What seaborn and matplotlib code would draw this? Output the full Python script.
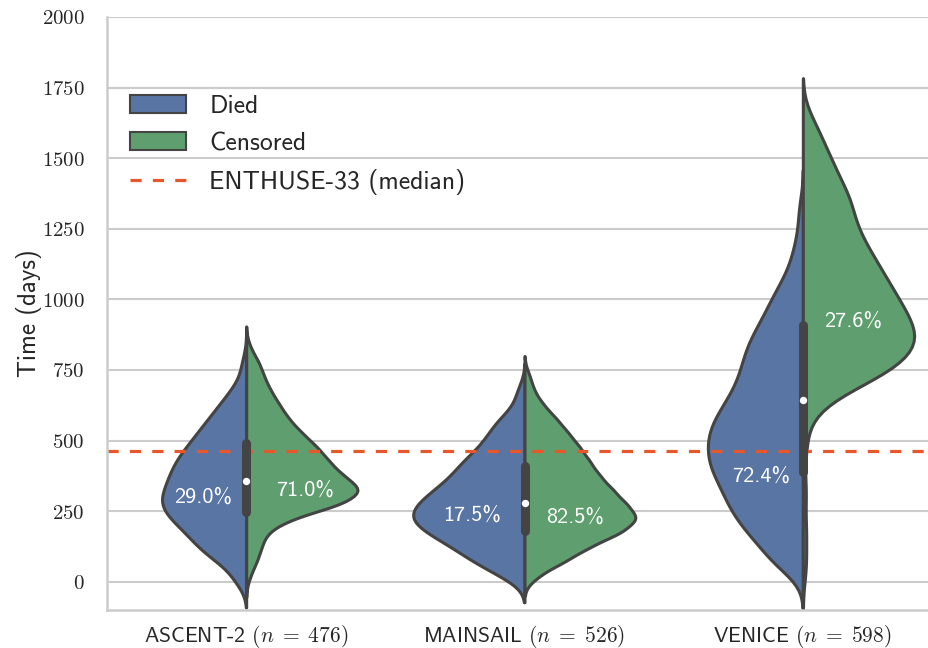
import numpy as np
import pandas as pd
import matplotlib
matplotlib.use("Agg")
import matplotlib.pyplot as plt
import seaborn as sns
from matplotlib.ticker import FixedLocator, FuncFormatter
from matplotlib.lines import Line2D
from matplotlib.patches import Patch

trials = ["ASCENT-2", "MAINSAIL", "VENICE"]
statuses = ["Died", "Censored"]
enthuse_median_days = 462
y_ticks = [0, 250, 500, 750, 1000, 1250, 1500, 1750, 2000]

# Survival times in days, grouped into 50-day bins (bin centre) with patient counts
ascent_died_days = [10, 75, 125, 175, 225, 275, 325, 375, 425, 475, 525, 575, 625, 675, 725, 775]
ascent_died_n = [3, 6, 9, 11, 14, 16, 15, 14, 13, 11, 9, 7, 5, 3, 1, 1]

ascent_cens_days = [25, 75, 125, 175, 225, 275, 325, 375, 425, 475, 525, 575, 625, 675, 725, 775, 825]
ascent_cens_n = [2, 5, 7, 9, 20, 44, 53, 43, 37, 32, 25, 19, 15, 11, 8, 6, 2]

mainsail_died_days = [25, 75, 125, 175, 225, 275, 325, 375, 425, 475, 525, 575, 625, 675]
mainsail_died_n = [3, 6, 8, 11, 13, 12, 10, 8, 7, 5, 4, 3, 1, 1]

mainsail_cens_days = [25, 75, 125, 175, 225, 275, 325, 375, 425, 475, 525, 575, 625, 675, 725]
mainsail_cens_n = [8, 22, 34, 51, 60, 53, 46, 39, 34, 29, 23, 17, 10, 5, 3]

venice_died_days = [40, 75, 125, 175, 225, 275, 325, 375, 425, 475, 525, 575, 625, 675,
                    725, 775, 825, 875, 925, 975, 1025, 1075, 1125, 1175, 1225, 1275, 1325]
venice_died_n = [5, 10, 13, 18, 21, 24, 25, 28, 30, 30, 30, 28, 25, 22,
                 20, 19, 18, 16, 13, 11, 9, 6, 4, 3, 2, 1, 2]

venice_cens_days = [60, 180, 320, 480, 575, 625, 675, 725, 775, 825, 875, 925, 975, 1025, 1075,
                    1125, 1175, 1225, 1275, 1325, 1375, 1425, 1475, 1525, 1575, 1625]
venice_cens_n = [1, 1, 1, 1, 1, 2, 5, 10, 12, 14, 14, 13, 12, 11, 10,
                 9, 8, 7, 6, 6, 6, 4, 4, 3, 2, 2]

# inner box summary per trial (pooled over both outcomes), in days
box_q1 = [248, 181, 389]
box_median = [357, 280, 644]
box_q3 = [492, 411, 910]

groups = [
    ("ASCENT-2", "Died", ascent_died_days, ascent_died_n),
    ("ASCENT-2", "Censored", ascent_cens_days, ascent_cens_n),
    ("MAINSAIL", "Died", mainsail_died_days, mainsail_died_n),
    ("MAINSAIL", "Censored", mainsail_cens_days, mainsail_cens_n),
    ("VENICE", "Died", venice_died_days, venice_died_n),
    ("VENICE", "Censored", venice_cens_days, venice_cens_n),
]
df = pd.concat(
    [pd.DataFrame({"trial": t, "status": s, "days": np.repeat(d, n)}) for t, s, d, n in groups],
    ignore_index=True,
)

counts = df.groupby(["trial", "status"]).size()
totals = df.groupby("trial").size()

# where each percentage label sits: (x offset from the violin centre, day value)
pct_label_pos = {
    ("ASCENT-2", "Died"): (-0.155, 300), ("ASCENT-2", "Censored"): (0.21, 325),
    ("MAINSAIL", "Died"): (-0.19, 237), ("MAINSAIL", "Censored"): (0.18, 230),
    ("VENICE", "Died"): (-0.15, 375), ("VENICE", "Censored"): (0.18, 922),
}

sns.set_theme(style="whitegrid")
plt.rcParams["font.family"] = ["cmss10", "DejaVu Sans"]
plt.rcParams["mathtext.fontset"] = "cm"
plt.rcParams["axes.unicode_minus"] = False

base_colors = ["#4C72B0", "#55A868"]
palette = dict(zip(statuses, base_colors))
edge = "#444444"
dash_color = "#E8572A"

fig = plt.figure(figsize=(9.29, 6.48), dpi=100)
ax = fig.add_axes([107 / 929, 38 / 648, 835 / 929, 593 / 648])

# one call per trial so that the two halves of a violin share an area scale
for trial in trials:
    sns.violinplot(
        data=df[df["trial"] == trial], x="trial", y="days", hue="status",
        order=trials, hue_order=statuses, palette=palette, split=True,
        inner=None, density_norm="area", common_norm=True, cut=2.5, bw_adjust=0.65,
        width=0.8, saturation=0.75, linewidth=2.2, linecolor=edge, legend=False, ax=ax,
    )

ax.axhline(enthuse_median_days, color=dash_color, lw=2.3, ls=(0, (3.5, 3.5)), zorder=2.5)

# inner box: interquartile bar with the median marked as a white dot
for i, trial in enumerate(trials):
    ax.plot([i, i], [box_q1[i], box_q3[i]], color=edge, lw=6.5,
            solid_capstyle="round", zorder=3)
    ax.scatter([i], [box_median[i]], s=28, color="white", zorder=4, linewidths=0)

for (trial, status), (dx, yv) in pct_label_pos.items():
    pct = 100 * counts[(trial, status)] / totals[trial]
    ax.text(trials.index(trial) + dx, yv, f"{pct:.1f}%", color="white",
            fontsize=16, ha="center", va="center", zorder=5)

ax.set_xlim(-0.5, 2.5)
ax.set_ylim(-100, 2000)
ax.yaxis.set_major_locator(FixedLocator(y_ticks))
ax.yaxis.set_major_formatter(FuncFormatter(lambda v, p: f"${int(v)}$"))
ax.set_xticks(range(len(trials)))
ax.set_xticklabels([f"{t} $(n\\;=\\;{totals[t]})$" for t in trials])
ax.tick_params(axis="y", labelsize=15, pad=10)
ax.tick_params(axis="x", labelsize=15.5, pad=3)
ax.set_xlabel("")
ax.set_ylabel("Time (days)", fontsize=18, labelpad=0)

ax.grid(axis="y", color="#cccccc", lw=1.5)
ax.grid(axis="x", visible=False)
for side in ["top", "right"]:
    ax.spines[side].set_visible(False)
for side in ["left", "bottom"]:
    ax.spines[side].set_color("#cccccc")
    ax.spines[side].set_linewidth(1.8)

handles = [
    Patch(facecolor=sns.desaturate(c, 0.75), edgecolor=edge, lw=1.5) for c in base_colors
] + [Line2D([0], [0], color=dash_color, lw=2.3, ls=(0, (3.5, 3.5)))]
ax.legend(handles, statuses + ["ENTHUSE-33 (median)"], loc="upper left",
          bbox_to_anchor=(0.015, 0.886), borderaxespad=0, frameon=False,
          fontsize=18.5, handlelength=2.2, handleheight=0.7, handletextpad=0.9,
          labelspacing=0.55)

fig.savefig("out.png", dpi=100)
